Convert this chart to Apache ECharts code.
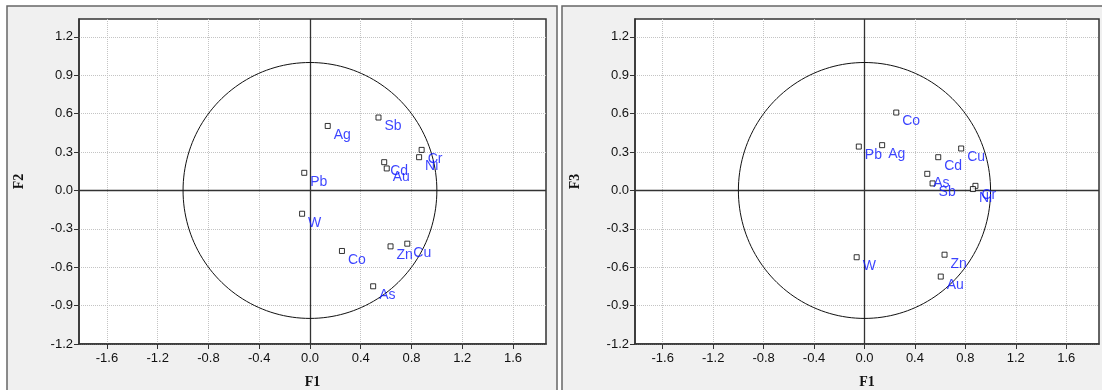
<!DOCTYPE html>
<html>
<head>
<meta charset="utf-8">
<script src="https://cdn.jsdelivr.net/npm/echarts@6/dist/echarts.min.js"></script>
<style>
  html, body { margin: 0; padding: 0; background: #fff; }
  #chart { width: 1102px; height: 390px; }
</style>
</head>
<body>
<div id="chart"></div>
<script>
// Element loadings on the first three factors
const elements = ['Ag', 'Sb', 'Pb', 'Cd', 'Au', 'Cr', 'Ni', 'W', 'Co', 'Zn', 'Cu', 'As'];
const f1 = [0.14, 0.54, -0.045, 0.585, 0.605, 0.88, 0.86, -0.062, 0.252, 0.635, 0.767, 0.498];
const f2 = [0.504, 0.570, 0.138, 0.221, 0.172, 0.317, 0.260, -0.182, -0.473, -0.437, -0.416, -0.749];
const f3 = [0.354, 0.055, 0.343, 0.260, -0.673, 0.036, 0.011, -0.522, 0.609, -0.502, 0.328, 0.130];

// Tick labels
const xTicks = [-1.6, -1.2, -0.8, -0.4, 0.0, 0.4, 0.8, 1.2, 1.6];
const yTicks = [-1.2, -0.9, -0.6, -0.3, 0.0, 0.3, 0.6, 0.9, 1.2];

// Correlation circle: centre (0,0), radius 1
const unitCircle = [[0, 0, 1]];

const fontSans = 'Arial, "Liberation Sans", Helvetica, sans-serif';
const fontSerif = '"Times New Roman", "Liberation Serif", serif';
const labelBlue = '#0a14ff';

function xAxisDef(gridIndex) {
  return {
    gridIndex: gridIndex,
    type: 'value',
    min: -1.82, max: 1.86,
    name: 'F1',
    nameLocation: 'middle',
    nameGap: 31,
    nameTextStyle: { fontFamily: fontSerif, fontWeight: 'bold', fontSize: 14, color: '#111' },
    axisLine: { show: true, onZero: false, lineStyle: { color: '#333', width: 1.5 } },
    axisTick: { show: true, length: 5, customValues: xTicks, lineStyle: { color: '#333' } },
    axisLabel: {
      customValues: xTicks, margin: 8, fontSize: 13, fontFamily: fontSans, color: '#111',
      formatter: v => v.toFixed(1)
    },
    splitLine: { show: true, lineStyle: { type: 'dotted', color: '#c4c4c4', width: 1 } }
  };
}

function yAxisDef(gridIndex, name) {
  return {
    gridIndex: gridIndex,
    type: 'value',
    min: -1.2, max: 1.34,
    name: name,
    nameLocation: 'middle',
    nameGap: 53,
    nameRotate: 90,
    nameTextStyle: { fontFamily: fontSerif, fontWeight: 'bold', fontSize: 14, color: '#111' },
    axisLine: { show: true, onZero: false, lineStyle: { color: '#333', width: 1.5 } },
    axisTick: { show: true, length: 5, customValues: yTicks, lineStyle: { color: '#333' } },
    axisLabel: {
      customValues: yTicks, margin: 6, fontSize: 13, fontFamily: fontSans, color: '#111',
      formatter: v => v.toFixed(1)
    },
    splitLine: { show: true, lineStyle: { type: 'dotted', color: '#c4c4c4', width: 1 } }
  };
}

function circleSeries(idx) {
  return {
    type: 'custom',
    xAxisIndex: idx, yAxisIndex: idx,
    silent: true,
    data: unitCircle,
    renderItem: function (params, api) {
      const cx = api.value(0), cy = api.value(1), r = api.value(2);
      const pts = [];
      for (let i = 0; i <= 360; i += 2) {
        const a = i * Math.PI / 180;
        pts.push(api.coord([cx + r * Math.cos(a), cy + r * Math.sin(a)]));
      }
      return {
        type: 'polyline',
        shape: { points: pts },
        style: { fill: null, stroke: '#111', lineWidth: 1 }
      };
    },
    z: 3
  };
}

function pointSeries(idx, ys) {
  return {
    type: 'scatter',
    xAxisIndex: idx, yAxisIndex: idx,
    data: elements.map((el, i) => ({ name: el, value: [f1[i], ys[i]] })),
    symbol: 'rect',
    symbolSize: 5,
    itemStyle: { color: '#fff', borderColor: '#000', borderWidth: 1 },
    label: {
      show: true,
      position: 'right',
      distance: 3,
      offset: [0, 9],
      formatter: p => p.name,
      color: labelBlue,
      fontSize: 14,
      fontFamily: fontSans
    },
    markLine: {
      silent: true,
      symbol: 'none',
      label: { show: false },
      lineStyle: { color: '#333', width: 1.3, type: 'solid' },
      data: [{ xAxis: 0 }, { yAxis: 0 }],
      z: 2
    },
    z: 5
  };
}

const chart = echarts.init(document.getElementById('chart'), null, { renderer: 'canvas' });
chart.setOption({
  backgroundColor: '#fff',
  animation: false,
  graphic: [
    { type: 'rect', z: -100, shape: { x: 7, y: 6, width: 550, height: 420 },
      style: { fill: '#f0f0f0', stroke: '#666', lineWidth: 1.5 } },
    { type: 'rect', z: -100, shape: { x: 562, y: 6, width: 560, height: 420 },
      style: { fill: '#f0f0f0', stroke: '#666', lineWidth: 1.5 } }
  ],
  grid: [
    { left: 79, top: 19, width: 467, height: 325, outerBoundsMode: 'none', containLabel: false,
      show: true, backgroundColor: '#fff', borderColor: '#333', borderWidth: 1.5 },
    { left: 635, top: 19, width: 464, height: 325, outerBoundsMode: 'none', containLabel: false,
      show: true, backgroundColor: '#fff', borderColor: '#333', borderWidth: 1.5 }
  ],
  xAxis: [xAxisDef(0), xAxisDef(1)],
  yAxis: [yAxisDef(0, 'F2'), yAxisDef(1, 'F3')],
  series: [
    circleSeries(0),
    pointSeries(0, f2),
    circleSeries(1),
    pointSeries(1, f3)
  ]
});
</script>
</body>
</html>
